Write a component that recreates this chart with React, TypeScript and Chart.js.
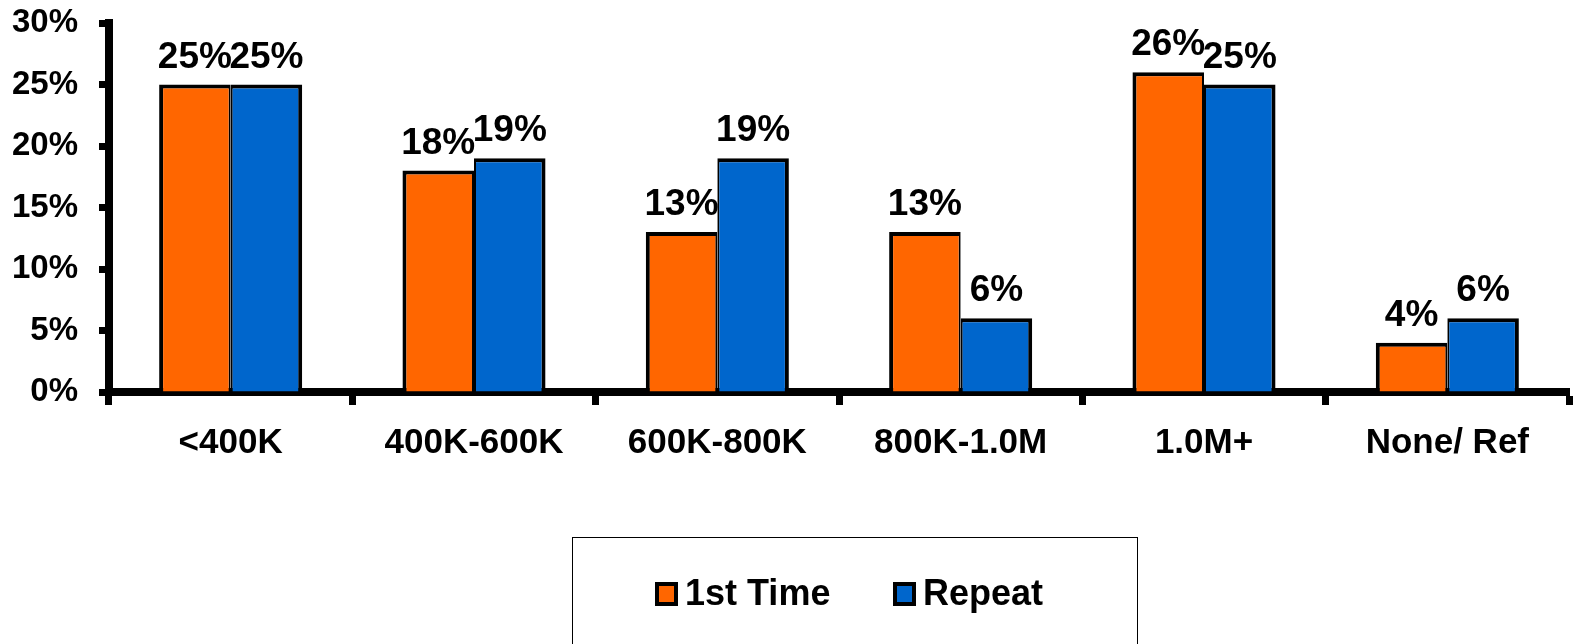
import React, { useEffect, useRef } from "react";
import { Chart, registerables } from "chart.js";

Chart.register(...registerables);

const categories = ["<400K", "400K-600K", "600K-800K", "800K-1.0M", "1.0M+", "None/ Ref"];
const firstTime = [25, 18, 13, 13, 26, 4];
const repeat = [25, 19, 19, 6, 25, 6];
const seriesNames = ["1st Time", "Repeat"];
const seriesColors = ["#FF6600", "#0066CC"];
const yTicks = [0, 5, 10, 15, 20, 25, 30];

const FONT = "'Liberation Sans', Arial, sans-serif";

const valueLabelPlugin = {
  id: "valueLabels",
  afterDatasetsDraw(chart: any) {
    const ctx = chart.ctx;
    ctx.save();
    ctx.font = `bold 37px ${FONT}`;
    ctx.fillStyle = "#000";
    ctx.textAlign = "center";
    ctx.textBaseline = "alphabetic";
    chart.data.datasets.forEach((ds: any, i: number) => {
      const meta = chart.getDatasetMeta(i);
      meta.data.forEach((bar: any, j: number) => {
        ctx.fillText(`${ds.data[j]}%`, bar.x, bar.y - 17);
      });
    });
    ctx.restore();
  },
};

const boxLegendPlugin = {
  id: "boxLegend",
  afterDraw(chart: any) {
    const ctx = chart.ctx;
    ctx.save();
    ctx.strokeStyle = "#000";
    ctx.lineWidth = 1;
    ctx.strokeRect(572.5, 537.5, 565, 200);
    const starts = [655, 893];
    ctx.font = `bold 36px ${FONT}`;
    ctx.textBaseline = "middle";
    ctx.textAlign = "left";
    chart.data.datasets.forEach((ds: any, i: number) => {
      const x = starts[i];
      const y = 582;
      ctx.fillStyle = "#000";
      ctx.fillRect(x, y, 23, 24);
      ctx.fillStyle = ds.backgroundColor;
      ctx.fillRect(x + 4, y + 4, 15, 16);
      ctx.fillStyle = "#000";
      ctx.fillText(ds.label, x + 30, y + 13);
    });
    ctx.restore();
  },
};

export default function App() {
  const ref = useRef<HTMLCanvasElement | null>(null);

  useEffect(() => {
    if (!ref.current) return;
    const chart = new Chart(ref.current, {
      type: "bar",
      data: {
        labels: categories,
        datasets: [
          {
            label: seriesNames[0],
            data: firstTime,
            backgroundColor: seriesColors[0],
            borderColor: "#000",
            borderWidth: { top: 4, left: 4, right: 2, bottom: 0 },
            borderSkipped: false,
            categoryPercentage: 0.588,
            barPercentage: 1,
          },
          {
            label: seriesNames[1],
            data: repeat,
            backgroundColor: seriesColors[1],
            borderColor: "#000",
            borderWidth: { top: 4, left: 2, right: 4, bottom: 0 },
            borderSkipped: false,
            categoryPercentage: 0.588,
            barPercentage: 1,
          },
        ],
      },
      options: {
        animation: false,
        responsive: true,
        maintainAspectRatio: false,
        layout: { padding: { top: 23, right: 4, left: 0, bottom: 0 } },
        plugins: {
          legend: { display: false },
          tooltip: { enabled: false },
        },
        scales: {
          x: {
            afterFit: (s: any) => {
              s.height = 252;
              s.paddingLeft = 0;
              s.paddingRight = 0;
            },
            grid: {
              offset: true,
              drawOnChartArea: false,
              drawTicks: true,
              tickLength: 13,
              tickWidth: 7,
              tickColor: "#000",
            },
            border: { display: true, color: "#000", width: 8 },
            ticks: {
              color: "#000",
              font: { family: FONT, size: 35, weight: "bold" },
              padding: 17,
              maxRotation: 0,
              autoSkip: false,
            },
          },
          y: {
            min: 0,
            max: 30,
            afterFit: (s: any) => {
              s.width = 109;
              s.paddingTop = 0;
              s.paddingBottom = 0;
            },
            afterBuildTicks: (s: any) => {
              s.ticks = yTicks.map((v) => ({ value: v }));
            },
            grid: {
              drawOnChartArea: false,
              drawTicks: true,
              tickLength: 10,
              tickWidth: 7,
              tickColor: "#000",
            },
            border: { display: true, color: "#000", width: 8 },
            ticks: {
              color: "#000",
              font: { family: FONT, size: 33, weight: "bold" },
              padding: 21,
              callback: (v: any) => `${v}%`,
            },
          },
        },
      },
      plugins: [valueLabelPlugin, boxLegendPlugin],
    });
    return () => chart.destroy();
  }, []);

  return (
    <div style={{ position: "absolute", left: 0, top: 0, width: 1573, height: 644, background: "#fff" }}>
      <canvas ref={ref} />
    </div>
  );
}
